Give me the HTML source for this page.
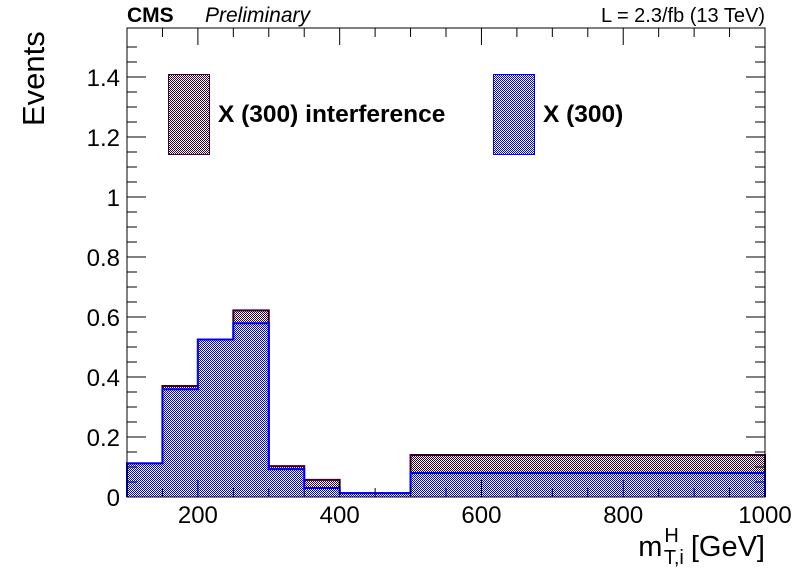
<!DOCTYPE html>
<html><head><meta charset="utf-8"><style>
body{margin:0;background:#fff;}
svg{display:block;font-family:"Liberation Sans",sans-serif;}
</style></head><body>
<svg id="chart" width="796" height="572">
<defs>
<pattern id="pInt" width="2" height="2" patternUnits="userSpaceOnUse"><rect width="2" height="2" fill="#fff"/><rect width="1" height="1" fill="#3a0030"/><rect x="1" y="1" width="1" height="1" fill="#3a0030"/></pattern>
<pattern id="pX" width="2" height="2" patternUnits="userSpaceOnUse"><rect width="2" height="2" fill="#fff"/><rect width="1" height="1" fill="#0000ff"/><rect x="1" y="1" width="1" height="1" fill="#0000ff"/></pattern>
</defs>
<g id="bars"></g>
<g id="axes"></g>
<text x="127" y="22" font-size="21" font-weight="bold">CMS</text>
<text x="205" y="22" font-size="21" font-style="italic">Preliminary</text>
<text x="765" y="22" font-size="20" text-anchor="end">L = 2.3/fb (13 TeV)</text>
<text transform="translate(44,126) rotate(-90)" font-size="31">Events</text>
<text x="765" y="556" font-size="29" text-anchor="end">m<tspan font-size="20" dy="-14" dx="2">H</tspan><tspan font-size="20" dy="22" dx="-15">T,i</tspan><tspan dy="-8" dx="7">[GeV]</tspan></text>
<g>
<rect x="168.5" y="74.5" width="41" height="80" fill="url(#pInt)" stroke="#3a0030"/>
<text x="218" y="122" font-size="24.5" font-weight="bold">X (300) interference</text>
<rect x="493.5" y="74.5" width="41" height="80" fill="url(#pX)" stroke="#0000ff"/>
<text x="543" y="122" font-size="24.5" font-weight="bold">X (300)</text>
</g>
</svg>
<script>
const binEdges=[100,150,200,250,300,350,400,500,1000];
const interference=[0.112,0.37,0.525,0.622,0.103,0.057,0.013,0.14];
const x300=[0.112,0.359,0.525,0.579,0.093,0.03,0.013,0.08];
const xTicks=[200,400,600,800,1000];
const yTicks=[0,0.2,0.4,0.6,0.8,1,1.2,1.4];
const yTickLabels=["0","0.2","0.4","0.6","0.8","1","1.2","1.4"];
const NS="http://www.w3.org/2000/svg";
const X0=127,X1=765,Y0=497,Y1=28,XMIN=100,XMAX=1000,YMAX=1.5633;
const sx=v=>X0+(v-XMIN)/(XMAX-XMIN)*(X1-X0);
const sy=v=>Y0-v/YMAX*(Y0-Y1);
const bars=document.getElementById('bars'),axes=document.getElementById('axes');
function mk(tag,attrs,parent){const e=document.createElementNS(NS,tag);for(const k in attrs)e.setAttribute(k,attrs[k]);parent.appendChild(e);return e;}
function hist(vals,fill,stroke,name){
  for(let i=0;i<vals.length;i++){
    const r=mk('rect',{x:sx(binEdges[i]),y:sy(vals[i]),width:sx(binEdges[i+1])-sx(binEdges[i]),height:Y0-sy(vals[i]),fill:fill},bars);
    
    
  }
  let d='M'+sx(binEdges[0])+','+Y0;
  for(let i=0;i<vals.length;i++){d+=' L'+sx(binEdges[i])+','+sy(vals[i])+' L'+sx(binEdges[i+1])+','+sy(vals[i]);}
  d+=' L'+sx(binEdges[vals.length])+','+Y0;
  const p=mk('path',{d:d,fill:'none',stroke:stroke,'stroke-width':2},bars);
  
  
}
hist(interference,'url(#pInt)','#3a0030','interference');
hist(x300,'url(#pX)','#0000ff','x300');
const frame=mk('rect',{x:X0,y:Y1,width:X1-X0,height:Y0-Y1,fill:'none',stroke:'#000','stroke-width':1},axes);


for(let v=XMIN;v<=XMAX;v+=50){
  const major=xTicks.includes(v);const len=major?17:9;const x=sx(v);
  mk('line',{x1:x,y1:Y0,x2:x,y2:Y0-len,stroke:'#000'},axes);
  mk('line',{x1:x,y1:Y1,x2:x,y2:Y1+len,stroke:'#000'},axes);
}
xTicks.forEach(v=>{
  const t=mk('text',{x:sx(v),y:523,'font-size':24,'text-anchor':'middle'},axes);
  t.textContent=v;
  
  
});
for(let v=0;v<=1.55;v+=0.05){
  const vv=Math.round(v*100)/100;const major=Math.abs(vv*5-Math.round(vv*5))<1e-6;const len=major?19:10;const y=sy(vv);
  mk('line',{x1:X0,y1:y,x2:X0+len,y2:y,stroke:'#000'},axes);
  mk('line',{x1:X1,y1:y,x2:X1-len,y2:y,stroke:'#000'},axes);
}
yTicks.forEach((v,i)=>{
  const t=mk('text',{x:120,y:sy(v)+9,'font-size':24,'text-anchor':'end'},axes);
  t.textContent=yTickLabels[i];
  
  
});
</script>
</body></html>
